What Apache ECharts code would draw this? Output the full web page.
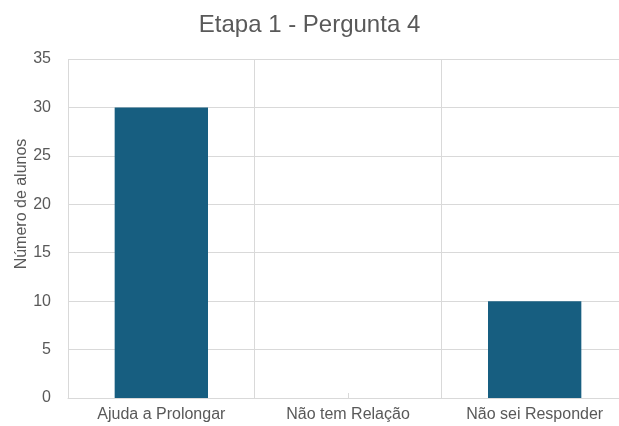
<!DOCTYPE html>
<html>
<head>
<meta charset="utf-8">
<script src="https://cdn.jsdelivr.net/npm/echarts@6/dist/echarts.min.js"></script>
<style>
  html, body { margin: 0; padding: 0; background: #ffffff; }
  #chart { width: 619px; height: 426px; }
</style>
</head>
<body>
<div id="chart"></div>
<script>
const chartTitle = 'Etapa 1 - Pergunta 4';
const yAxisTitle = 'Número de alunos';
const categories = ['Ajuda a Prolongar', 'Não tem Relação', 'Não sei Responder'];
const alunos = [30, 0, 10];
const yTicks = { min: 0, max: 35, interval: 5 };

const textColor = '#595959';
const gridColor = '#d9d9d9';
const fontFamily = 'Liberation Sans, Arial, sans-serif';

const chart = echarts.init(document.getElementById('chart'), null, { renderer: 'canvas' });
chart.setOption({
  animation: false,
  backgroundColor: '#ffffff',
  title: {
    text: chartTitle,
    left: 'center',
    top: 8,
    textStyle: { color: textColor, fontSize: 24, fontWeight: 'normal', fontFamily }
  },
  // plot runs slightly past the right edge of the canvas
  grid: { left: 68, width: 560, top: 59, bottom: 28, outerBoundsMode: 'none', containLabel: false },
  graphic: [{
    type: 'text',
    x: 22,
    y: 204,
    rotation: Math.PI / 2,
    style: {
      text: yAxisTitle,
      fill: textColor,
      font: '16px ' + fontFamily,
      textAlign: 'center',
      textVerticalAlign: 'middle'
    }
  }],
  xAxis: {
    type: 'category',
    data: categories,
    boundaryGap: true,
    axisLine: { show: true, lineStyle: { color: gridColor, width: 1 } },
    axisTick: { show: true, inside: true, alignWithLabel: true, length: 5, lineStyle: { color: gridColor } },
    axisLabel: { color: textColor, fontSize: 16, fontFamily, margin: 9, interval: 0 },
    splitLine: { show: true, interval: 0, lineStyle: { color: gridColor, width: 1 } }
  },
  yAxis: {
    type: 'value',
    min: yTicks.min,
    max: yTicks.max,
    interval: yTicks.interval,
    axisLine: { show: false },
    axisTick: { show: false },
    axisLabel: { color: textColor, fontSize: 16, fontFamily, margin: 17 },
    splitLine: { show: true, lineStyle: { color: gridColor, width: 1 } }
  },
  series: [{
    type: 'bar',
    data: alunos,
    barWidth: '50%',
    itemStyle: { color: '#175e80' }
  }]
});
</script>
</body>
</html>
